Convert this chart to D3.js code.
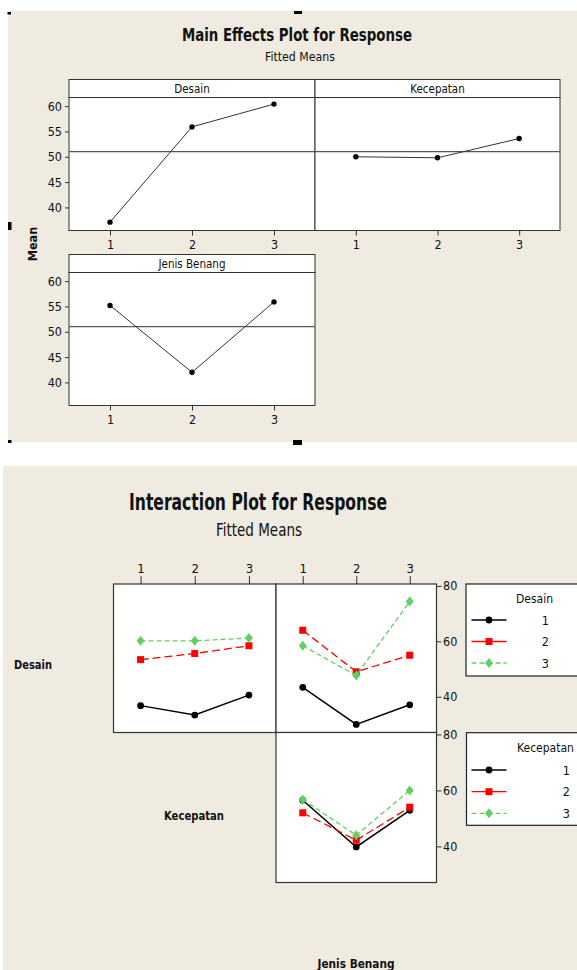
<!DOCTYPE html>
<html><head><meta charset="utf-8">
<script src="https://cdn.jsdelivr.net/npm/d3@7"></script>
<style>
body{margin:0;background:#fff;}
svg{display:block;}
text{font-family:"DejaVu Sans Condensed","DejaVu Sans",sans-serif;font-stretch:condensed;fill:#111;}
</style></head><body>
<svg id="c" width="577" height="970"></svg>
<script>
// ---------- data ----------
const levels = [1, 2, 3];
const factorNames = ["Desain", "Kecepatan", "Jenis Benang"];
const desainMeans = [37.1, 55.9, 60.4];
const kecepatanMeans = [50.0, 49.8, 53.6];
const benangMeans = [55.2, 42.0, 55.9];
const grandMean = 51.0;
const mainTicks = [40, 45, 50, 55, 60];
const mainDomain = [35.45, 61.7];

// rows: series level (1,2,3), columns: x level (1,2,3)
const desainXKecepatan = [[36.8, 33.4, 40.6], [53.4, 55.6, 58.4], [60.2, 60.2, 61.2]];
const desainXBenang = [[43.4, 30.0, 37.1], [64.0, 49.0, 55.0], [58.4, 47.7, 74.4]];
const kecepatanXBenang = [[56.5, 39.8, 52.9], [52.0, 42.2, 54.0], [56.7, 44.0, 60.0]];
const interactionTicks = [40, 60, 80];
const interactionDomain = [27.1, 80.7];
const seriesLabels = ["1", "2", "3"];

// ---------- styles ----------
const BEIGE = "#efebe1";
const seriesStyle = [
  {color: "#000000", dash: null, w: 1.5, shape: "circle"},
  {color: "#ff0000", dash: "8,4", w: 1.3, shape: "square"},
  {color: "#63cf63", dash: "5,3", w: 1.3, shape: "diamond"}
];

const svg = d3.select("#c");

// backgrounds
svg.append("rect").attr("x", 8).attr("y", 11).attr("width", 569).attr("height", 431).attr("fill", BEIGE);
svg.append("rect").attr("x", 3).attr("y", 466).attr("width", 574).attr("height", 504).attr("fill", BEIGE);

// selection handles
[[7.5, 12, 3.5, 2.5], [294, 11, 8, 3], [8, 222, 3.5, 8], [8, 440, 3.5, 3], [293, 440, 9, 5]].forEach(h => {
  svg.append("rect").attr("x", h[0]).attr("y", h[1]).attr("width", h[2]).attr("height", h[3]).attr("fill", "#000");
});

function fitText(g, str, x, y, len, size, bold, anchor) {
  return g.append("text").attr("x", x).attr("y", y)
    .attr("font-size", size).attr("font-weight", bold ? "bold" : "normal")
    .attr("textLength", len).attr("lengthAdjust", "spacingAndGlyphs")
    .attr("text-anchor", anchor || "start").text(str);
}

// ---------- Main effects ----------
fitText(svg, "Main Effects Plot for Response", 182, 41, 230, 17, true);
fitText(svg, "Fitted Means", 265, 61, 70, 13, false);

function drawMain(x0, x1, top, means, name, showY) {
  const g = svg.append("g");
  const stripH = 18, plotH = 133;
  const pTop = top + stripH, pBot = pTop + plotH;
  const x = d3.scaleLinear().domain([0.5, 3.5]).range([x0, x1]);
  const y = d3.scaleLinear().domain(mainDomain).range([pBot, pTop]);
  g.append("rect").attr("x", x0).attr("y", top).attr("width", x1 - x0).attr("height", stripH)
    .attr("fill", "#fff").attr("stroke", "#333").attr("stroke-width", 1);
  g.append("rect").attr("x", x0).attr("y", pTop).attr("width", x1 - x0).attr("height", plotH)
    .attr("fill", "#fff").attr("stroke", "#333").attr("stroke-width", 1);
  g.append("text").attr("x", (x0 + x1) / 2).attr("y", top + 13.5).attr("text-anchor", "middle")
    .attr("font-size", 11.5).text(name);
  g.append("line").attr("x1", x0).attr("x2", x1).attr("y1", y(grandMean)).attr("y2", y(grandMean))
    .attr("stroke", "#555").attr("stroke-width", 1.2);
  const line = d3.line().x((d, i) => x(levels[i])).y(d => y(d));
  g.append("path").attr("d", line(means)).attr("fill", "none").attr("stroke", "#333").attr("stroke-width", 1);
  g.selectAll("circle.pt").data(means).join("circle").attr("class", "pt")
    .attr("cx", (d, i) => x(levels[i])).attr("cy", d => y(d)).attr("r", 2.7).attr("fill", "#000");
  const ax = g.append("g").attr("transform", `translate(0,${pBot})`)
    .call(d3.axisBottom(x).tickValues(levels).tickSize(5).tickPadding(5).tickFormat(d3.format("d")));
  ax.select(".domain").remove();
  ax.attr("font-size", 12.5);
  ax.selectAll("line").attr("stroke", "#333");
  if (showY) {
    const ay = g.append("g").attr("transform", `translate(${x0},0)`)
      .call(d3.axisLeft(y).tickValues(mainTicks).tickSize(4).tickPadding(3));
    ay.select(".domain").remove();
    ay.attr("font-size", 12.5);
    ay.selectAll("line").attr("stroke", "#333");
  }
}
drawMain(69, 315, 79.5, desainMeans, factorNames[0], true);
drawMain(315, 560, 79.5, kecepatanMeans, factorNames[1], false);
drawMain(69, 315, 254.5, benangMeans, factorNames[2], true);

svg.append("text").attr("transform", "translate(37,244) rotate(-90)").attr("text-anchor", "middle")
  .attr("font-size", 12.5).attr("font-weight", "bold").text("Mean");

// ---------- Interaction ----------
fitText(svg, "Interaction Plot for Response", 129, 510, 258, 23, true);
fitText(svg, "Fitted Means", 216, 536, 86, 17, false);

function marker(g, shape, cx, cy, color) {
  if (shape === "circle") {
    g.append("circle").attr("cx", cx).attr("cy", cy).attr("r", 3.4).attr("fill", color);
  } else if (shape === "square") {
    g.append("rect").attr("x", cx - 3.5).attr("y", cy - 3.5).attr("width", 7).attr("height", 7).attr("fill", color);
  } else {
    g.append("path").attr("d", `M${cx},${cy - 5}L${cx + 4},${cy}L${cx},${cy + 5}L${cx - 4},${cy}Z`).attr("fill", color);
  }
}

const colX = [[113.5, 276], [276, 436.5]];
const rowY = [[584, 732.5], [732.5, 882.5]];

function drawCell(ci, ri, data) {
  const [x0, x1] = colX[ci], [y0, y1] = rowY[ri];
  const g = svg.append("g");
  const x = d3.scaleLinear().domain([0.5, 3.5]).range([x0, x1]);
  const y = d3.scaleLinear().domain(interactionDomain).range([y1, y0]);
  g.append("rect").attr("x", x0).attr("y", y0).attr("width", x1 - x0).attr("height", y1 - y0)
    .attr("fill", "#fff").attr("stroke", "#333").attr("stroke-width", 1.2);
  const line = d3.line().x((d, i) => x(levels[i])).y(d => y(d));
  data.forEach((s, si) => {
    const st = seriesStyle[si];
    g.append("path").attr("d", line(s)).attr("fill", "none").attr("stroke", st.color)
      .attr("stroke-width", st.w).attr("stroke-dasharray", st.dash);
    s.forEach((v, i) => marker(g, st.shape, x(levels[i]), y(v), st.color));
  });
  if (ri === 0) {
    const at = g.append("g").attr("transform", `translate(0,${y0})`)
      .call(d3.axisTop(x).tickValues(levels).tickSize(8).tickPadding(3).tickFormat(d3.format("d")));
    at.select(".domain").remove();
    at.attr("font-size", 13);
    at.selectAll("line").attr("stroke", "#333");
  }
  if (ci === 1) {
    const ar = g.append("g").attr("transform", `translate(${x1},0)`)
      .call(d3.axisRight(y).tickValues(interactionTicks).tickSize(5).tickPadding(1.5));
    ar.select(".domain").remove();
    ar.attr("font-size", 12.5);
    ar.selectAll("line").attr("stroke", "#333");
  }
}
drawCell(0, 0, desainXKecepatan);
drawCell(1, 0, desainXBenang);
drawCell(1, 1, kecepatanXBenang);

fitText(svg, "Desain", 33, 669, 38, 12, true, "middle");
fitText(svg, "Kecepatan", 194, 820, 60, 12, true, "middle");
fitText(svg, "Jenis Benang", 356, 968, 77, 12, true, "middle");

function drawLegend(x0, y0, h, title, titleX, labelEnd, entryY) {
  const g = svg.append("g");
  g.append("rect").attr("x", x0).attr("y", y0).attr("width", 130).attr("height", h)
    .attr("fill", "#fff").attr("stroke", "#222").attr("stroke-width", 1.2);
  g.append("text").attr("x", titleX).attr("y", y0 + 19).attr("font-size", 12).text(title);
  seriesLabels.forEach((lab, i) => {
    const st = seriesStyle[i];
    const yy = entryY[i];
    g.append("line").attr("x1", 471.5).attr("x2", 506.5).attr("y1", yy).attr("y2", yy)
      .attr("stroke", st.color).attr("stroke-width", st.w)
      .attr("stroke-dasharray", i === 2 ? st.dash : null);
    marker(g, st.shape, 489, yy, st.color);
    g.append("text").attr("x", labelEnd).attr("y", yy + 4.5).attr("text-anchor", "end")
      .attr("font-size", 12.5).text(lab);
  });
}
drawLegend(466, 584, 92, factorNames[0], 516, 549, [620, 641.5, 663]);
drawLegend(466.5, 732.7, 92.6, factorNames[1], 517, 570, [770, 791.7, 813.3]);
</script>
</body></html>
